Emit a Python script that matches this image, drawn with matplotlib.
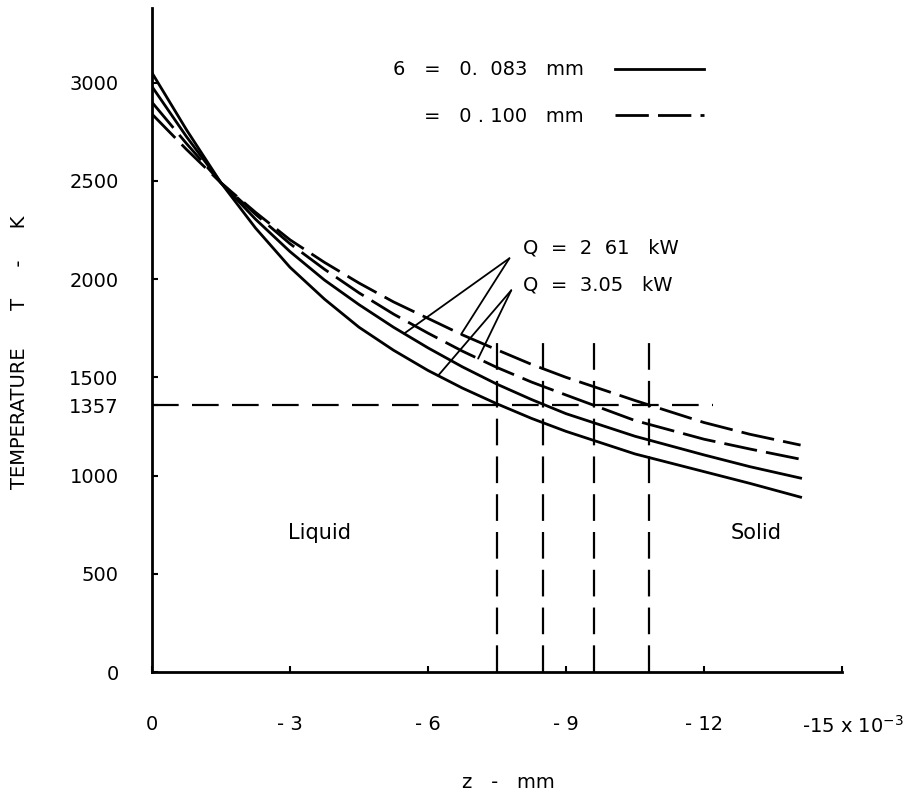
import numpy as np
import matplotlib.pyplot as plt
from matplotlib.transforms import ScaledTranslation

# depth below the surface (x 10^-3 mm)
z = [0, -0.75, -1.5, -2.25, -3, -3.75, -4.5, -5.25, -6, -6.75, -7.5, -8.25, -9,
     -10.5, -12, -13, -14.1]

# temperature (K)
T_solid_261 = [2980, 2725, 2490, 2305, 2140, 1995, 1870, 1755, 1650, 1553, 1465, 1387, 1315,
               1200, 1105, 1045, 987]
T_solid_305 = [3050, 2760, 2490, 2260, 2060, 1898, 1755, 1638, 1535, 1445, 1365, 1291, 1225,
               1110, 1020, 960, 890]
T_dash_261 = [2840, 2660, 2490, 2340, 2200, 2085, 1980, 1884, 1800, 1716, 1640, 1566, 1500,
              1382, 1270, 1210, 1155]
T_dash_305 = [2900, 2690, 2490, 2330, 2180, 2050, 1930, 1822, 1725, 1633, 1550, 1476, 1410,
              1280, 1185, 1135, 1083]

# melting point and where each curve crosses it
T_melt = 1357
z_melt_end = -12.2
z_cross = [-7.5, -8.5, -9.6, -10.8]
T_cross_top = 1720

xticks = [0, -3, -6, -9, -12, -15]
xtick_labels = ["0", "- 3", "- 6", "- 9", "- 12", "-15 x 10$^{-3}$"]
yticks = [0, 500, 1000, 1357, 1500, 2000, 2500, 3000]
ytick_labels = ["0", "500", "1000", "1357", "1500", "2000", "2500", "3000"]

legend_labels = ["6   =   0.  083   mm", "=   0 . 100   mm"]

# Q leader lines: label, label anchor, leader origin, target depths on the curves
q_labels = ["Q  =  2  61   kW", "Q  =  3.05   kW"]
q_text_pos = [(-8.07, 2157), (-8.07, 1968)]
q_leader_from = [(-7.77, 2106), (-7.81, 1943)]
q_targets = [[(-5.48, "solid_261"), (-6.72, "dash_261")],
             [(-6.22, "solid_305"), (-7.09, "dash_305")]]

FS = 14
plt.rcParams['font.family'] = ['DejaVu Sans']

fig = plt.figure(figsize=(9.23, 7.96), dpi=100)
ax = fig.add_axes([152 / 923, 124 / 796, 690 / 923, 664 / 796])

curves = {"solid_261": T_solid_261, "solid_305": T_solid_305,
          "dash_261": T_dash_261, "dash_305": T_dash_305}

lw = 2.0
dash = (12, 3.3)
h_solid, = ax.plot(z, T_solid_261, color='black', lw=lw)
ax.plot(z, T_solid_305, color='black', lw=lw)
h_dash, = ax.plot(z, T_dash_261, color='black', lw=lw, dashes=dash)
ax.plot(z, T_dash_305, color='black', lw=lw, dashes=dash)

# melting line and crossings
ax.plot([0, z_melt_end], [T_melt, T_melt], color='black', lw=1.6, dashes=(12, 6))
for zc in z_cross:
    ax.plot([zc, zc], [0, T_cross_top], color='black', lw=1.6, dashes=(12, 5))

# Q leaders
zr = np.array(z[::-1])
for lab, tpos, src, tgts in zip(q_labels, q_text_pos, q_leader_from, q_targets):
    ax.text(tpos[0], tpos[1], lab, fontsize=FS, ha='left', va='center')
    for zt, key in tgts:
        Tt = np.interp(zt, zr, np.array(curves[key][::-1]))
        ax.annotate('', xy=(zt, Tt), xytext=src,
                    arrowprops=dict(arrowstyle='-', lw=1.3, color='black',
                                    shrinkA=0, shrinkB=0))

ax.text(-3.64, 707, "Liquid", fontsize=15, ha='center', va='center')
ax.text(-13.14, 707, "Solid", fontsize=15, ha='center', va='center')

leg = ax.legend([h_solid, h_dash], legend_labels, markerfirst=False, frameon=False,
                fontsize=FS, handlelength=4.6, handletextpad=1.6, labelspacing=1.4,
                loc='center', bbox_to_anchor=(0.575, 0.872))

ax.set_xlim(0, -15)
ax.set_ylim(0, 3380)
ax.set_xticks(xticks)
ax.set_xticklabels(xtick_labels, fontsize=FS)
ax.set_yticks(yticks)
ax.set_yticklabels(ytick_labels, fontsize=FS)
ax.tick_params(axis='x', direction='in', length=4, width=1.5, pad=31)
ax.tick_params(axis='y', direction='in', length=4, width=1.5, pad=24)
lbl = ax.get_xticklabels()[-1]
lbl.set_transform(lbl.get_transform() + ScaledTranslation(0.11, 0, fig.dpi_scale_trans))

for s in ['top', 'right']:
    ax.spines[s].set_visible(False)
for s in ['left', 'bottom']:
    ax.spines[s].set_linewidth(2.0)

ax.set_xlabel("z   -   mm", fontsize=FS)
ax.xaxis.set_label_coords(0.517, -0.152)
ax.set_ylabel("TEMPERATURE      T     -     K", fontsize=FS)
ax.yaxis.set_label_coords(-0.178, 0.482)

fig.savefig("out.png", dpi=100)
